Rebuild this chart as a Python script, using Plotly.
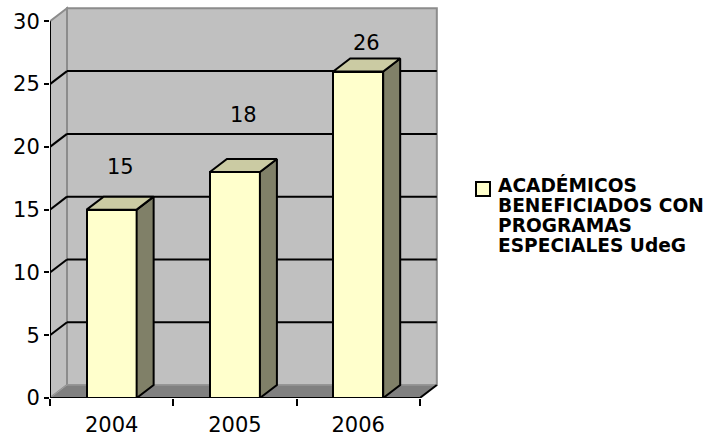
import plotly.graph_objects as go

# ---- data ----
categories = ["2004", "2005", "2006"]
values = [15, 18, 26]
series_name = "ACADÉMICOS BENEFICIADOS CON PROGRAMAS ESPECIALES UdeG"
legend_lines = ["ACADÉMICOS", "BENEFICIADOS CON", "PROGRAMAS", "ESPECIALES UdeG"]
y_ticks = [0, 5, 10, 15, 20, 25, 30]

# ---- layout geometry (pixels) ----
W, H = 714, 438
L, R, T, B = 50, 271, 5, 40
x_lo, x_hi = -0.5, 2.688
y_lo, y_hi = 0, 31.3
px_x = (W - L - R) / (x_hi - x_lo)
px_y = (H - T - B) / (y_hi - y_lo)
DX = 17 / px_x          # depth offset in x units
DY = 13 / px_y          # depth offset in y units
BW = 50 / px_x          # bar width
YMAX = 30
label_lift = [43, 57, 29]   # label offset above bar tops (px)

FRONT = "#ffffcc"
TOP = "#cbcba3"
SIDE = "#808068"
WALL = "#c0c0c0"
FLOOR = "#808080"
EDGE = "#8c8c8c"
FONT = "DejaVu Sans"
FS = 21

xs = list(range(len(categories)))
fig = go.Figure()

def poly(pts):
    return "M " + " L ".join(f"{x},{y}" for x, y in pts) + " Z"

shapes = []
xl = x_lo
xr = xl + len(categories)
# back wall
shapes.append(dict(type="path", path=poly([(xl + DX, DY), (xr + DX, DY), (xr + DX, YMAX + DY), (xl + DX, YMAX + DY)]),
                   fillcolor=WALL, line=dict(color=EDGE, width=2), layer="below"))
# left wall
shapes.append(dict(type="path", path=poly([(xl, 0), (xl + DX, DY), (xl + DX, YMAX + DY), (xl, YMAX)]),
                   fillcolor=WALL, line=dict(color=EDGE, width=2), layer="below"))
# floor
shapes.append(dict(type="path", path=poly([(xl, 0), (xr, 0), (xr + DX, DY), (xl + DX, DY)]),
                   fillcolor=FLOOR, line=dict(color="#a0a0a0", width=1), layer="below"))
# gridlines
for v in y_ticks[1:-1]:
    shapes.append(dict(type="line", x0=xl + DX, x1=xr + DX, y0=v + DY, y1=v + DY,
                       line=dict(color="black", width=2), layer="below"))
    shapes.append(dict(type="line", x0=xl, x1=xl + DX, y0=v, y1=v + DY,
                       line=dict(color="black", width=2), layer="below"))
# axis lines
shapes.append(dict(type="line", x0=xl, x1=xl, y0=0, y1=YMAX, line=dict(color="black", width=2), layer="above"))
shapes.append(dict(type="line", x0=xl, x1=xr, y0=0, y1=0, line=dict(color="black", width=2), layer="above"))
shapes.append(dict(type="line", x0=xr, x1=xr + DX, y0=0, y1=DY, line=dict(color="black", width=2), layer="above"))

# bar front faces
fig.add_trace(go.Bar(x=xs, y=values, width=BW, marker=dict(color=FRONT, line=dict(color="black", width=2)),
                     name=series_name, showlegend=False, hoverinfo="skip"))

# side and top faces
for c, v in zip(xs, values):
    r = c + BW / 2
    l = c - BW / 2
    fig.add_trace(go.Scatter(x=[r, r + DX, r + DX, r, r], y=[0, DY, v + DY, v, 0], fill="toself",
                             fillcolor=SIDE, mode="lines", line=dict(color="black", width=2),
                             showlegend=False, hoverinfo="skip"))
    fig.add_trace(go.Scatter(x=[l, r, r + DX, l + DX, l], y=[v, v, v + DY, v + DY, v], fill="toself",
                             fillcolor=TOP, mode="lines", line=dict(color="black", width=2),
                             showlegend=False, hoverinfo="skip"))

annotations = []
for c, v, lift in zip(xs, values, label_lift):
    annotations.append(dict(x=c + DX / 2, y=v, text=str(v), showarrow=False, yshift=lift,
                            font=dict(family=FONT, size=FS, color="black"), xanchor="center", yanchor="middle"))

# legend
pw = W - L - R
ph = H - T - B
def paper_x(px):
    return (px - L) / pw
def paper_y(py):
    return (H - B - py) / ph

shapes.append(dict(type="rect", xref="paper", yref="paper", x0=paper_x(476), x1=paper_x(490),
                   y0=paper_y(196), y1=paper_y(182), fillcolor=FRONT, line=dict(color="black", width=2)))
for i, t in enumerate(legend_lines):
    annotations.append(dict(xref="paper", yref="paper", x=paper_x(496), y=paper_y(185 + 20 * i), text=t,
                            showarrow=False, xanchor="left", yanchor="middle",
                            font=dict(family=FONT, size=18.6, color="black", weight="bold")))

fig.update_layout(
    width=W, height=H, margin=dict(l=L, r=R, t=T, b=B, autoexpand=False),
    paper_bgcolor="white", plot_bgcolor="white",
    shapes=shapes, annotations=annotations, showlegend=False,
    bargap=0,
    xaxis=dict(range=[x_lo, x_hi], tickvals=xs, ticktext=categories, ticks="", showgrid=False,
               zeroline=False, showline=False, ticklabelstandoff=12, automargin=False,
               tickfont=dict(family=FONT, size=FS, color="black"),
               minor=dict(tickvals=[xl + i for i in range(len(categories) + 1)], ticks="outside",
                          ticklen=7, tickwidth=2, tickcolor="black", showgrid=False)),
    yaxis=dict(range=[y_lo, y_hi], tickvals=y_ticks, ticks="outside", ticklen=5, tickwidth=2,
               tickcolor="black", showgrid=False, zeroline=False, showline=False, automargin=False,
               tickfont=dict(family=FONT, size=FS, color="black")),
)

fig.write_html("out.html", config={"displayModeBar": False},
               post_script="document.body.style.margin='0';document.body.style.overflow='hidden';")
